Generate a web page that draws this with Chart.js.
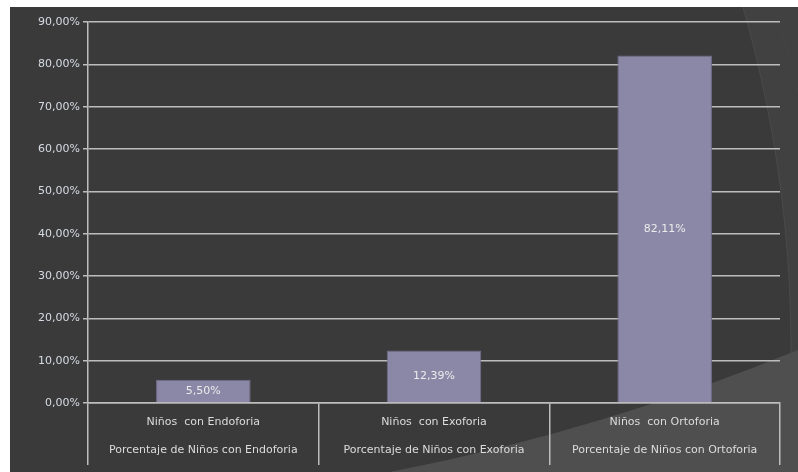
<!DOCTYPE html>
<html>
<head>
<meta charset="utf-8">
<script src="https://cdn.jsdelivr.net/npm/chart.js@4"></script>
<style>
    html, body { margin: 0; padding: 0; background: #ffffff; }
    #wrap { position: absolute; left: 10px; top: 7px; width: 788px; height: 465px; }
</style>
</head>
<body>
<div id="wrap"><canvas id="chart"></canvas></div>
<script>
const categories = [
    ["Niños  con Endoforia", "Porcentaje de Niños con Endoforia"],
    ["Niños  con Exoforia", "Porcentaje de Niños con Exoforia"],
    ["Niños  con Ortoforia", "Porcentaje de Niños con Ortoforia"]
];
const porcentajes = [5.50, 12.39, 82.11];
const yMax = 90;
const yStep = 10;

function pct(v) {
    return v.toFixed(2).replace(".", ",") + "%";
}

// dark slide background with the curved lighter panels on the right
const fondo = {
    id: "fondo",
    beforeDraw(chart) {
        const ctx = chart.ctx;
        const w = chart.width, h = chart.height;
        ctx.save();
        ctx.fillStyle = "#414141";
        ctx.fillRect(0, 0, w, h);
        ctx.beginPath();
        ctx.arc(-453, 341, 1234, 0, Math.PI * 2);
        ctx.fillStyle = "#3a3a3a";
        ctx.fill();
        ctx.strokeStyle = "#4a4a4a";
        ctx.lineWidth = 1;
        ctx.stroke();
        ctx.beginPath();
        ctx.arc(-380, 360, 1200, -0.35, 0.1);
        ctx.strokeStyle = "#444444";
        ctx.stroke();
        ctx.beginPath();
        ctx.rect(0, 0, w, h);
        ctx.arc(-42, -1689, 2195, 0, Math.PI * 2);
        ctx.fillStyle = "#4f4f4f";
        ctx.fill("evenodd");
        ctx.restore();
    }
};

// value written in the middle of each bar
const valores = {
    id: "valores",
    afterDatasetsDraw(chart) {
        const ctx = chart.ctx;
        const meta = chart.getDatasetMeta(0);
        ctx.save();
        ctx.font = "11px 'DejaVu Sans'";
        ctx.fillStyle = "#ececec";
        ctx.textAlign = "center";
        ctx.textBaseline = "middle";
        meta.data.forEach((bar, i) => {
            ctx.fillText(pct(porcentajes[i]), bar.x, (bar.y + bar.base) / 2);
        });
        ctx.restore();
    }
};

const ctx = document.getElementById("chart").getContext("2d");
new Chart(ctx, {
    type: "bar",
    data: {
        labels: categories,
        datasets: [{
            data: porcentajes,
            backgroundColor: "#8b87a6",
            borderColor: "#726e8c",
            borderWidth: 1,
            categoryPercentage: 0.41,
            barPercentage: 1
        }]
    },
    options: {
        responsive: true,
        maintainAspectRatio: false,
        animation: false,
        layout: { padding: { top: 15, right: 18, left: 0, bottom: 0 } },
        plugins: {
            legend: { display: false },
            tooltip: { enabled: false }
        },
        scales: {
            x: {
                afterFit: (scale) => { scale.height = 69; },
                grid: {
                    offset: true,
                    drawOnChartArea: false,
                    drawTicks: true,
                    tickLength: 62,
                    color: "#bdbdbd",
                    lineWidth: 1.5
                },
                border: { display: true, color: "#bdbdbd", width: 1.5 },
                ticks: {
                    padding: -57,
                    color: "#dcdcdc",
                    maxRotation: 0,
                    font: { family: "DejaVu Sans", size: 11, lineHeight: 28 / 11 }
                }
            },
            y: {
                min: 0,
                max: yMax,
                afterFit: (scale) => { scale.width = 78; },
                grid: {
                    color: "#bdbdbd",
                    lineWidth: 1.5,
                    tickLength: 5
                },
                border: { display: true, color: "#bdbdbd", width: 1.5 },
                ticks: {
                    stepSize: yStep,
                    padding: 3,
                    color: "#d6dbe4",
                    font: { family: "DejaVu Sans", size: 11 },
                    callback: (v) => pct(v)
                }
            }
        }
    },
    plugins: [fondo, valores]
});
</script>
</body>
</html>
